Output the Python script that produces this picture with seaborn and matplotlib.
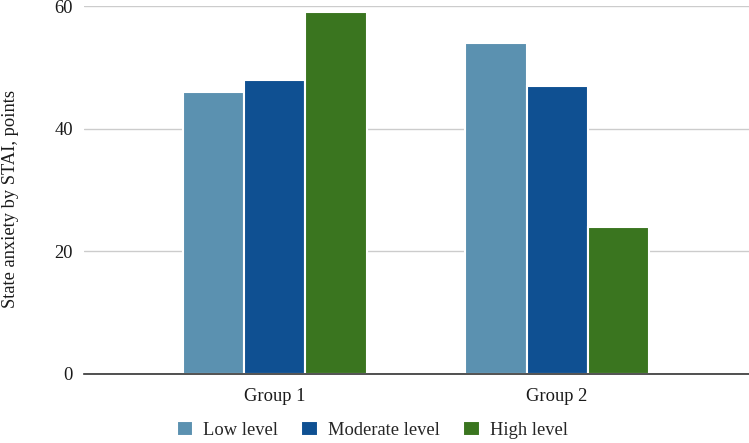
import pandas as pd
import matplotlib.pyplot as plt
import seaborn as sns

groups = ["Group 1", "Group 2"]
levels = ["Low level", "Moderate level", "High level"]
low = [46, 54]
moderate = [48, 47]
high = [59, 24]
colors = ["#5b91b0", "#0f5092", "#3a751f"]

df = pd.DataFrame({
    "group": groups * 3,
    "level": [levels[0]] * 2 + [levels[1]] * 2 + [levels[2]] * 2,
    "value": low + moderate + high,
})

sns.set_style("white")
plt.rcParams["font.family"] = ["Liberation Serif", "DejaVu Serif"]

fig = plt.figure(figsize=(7.49, 4.43), dpi=100)
ax = fig.add_axes([0.112, 0.156, 0.888, 0.830])

sns.barplot(data=df, x="group", y="value", hue="level", hue_order=levels,
            palette=colors, saturation=1, width=0.65, edgecolor="white",
            linewidth=1.5, ax=ax, zorder=3)

ax.set_ylim(0, 60)
ax.set_yticks([0, 20, 40, 60])
ax.set_xlim(-0.677, 1.68)
ax.grid(axis="y", color="#cccccc", linewidth=1, zorder=0)
for s in ["top", "right", "left"]:
    ax.spines[s].set_visible(False)
ax.spines["bottom"].set_color("#333333")
ax.spines["bottom"].set_linewidth(1.2)
ax.spines["bottom"].set_zorder(4)
ax.tick_params(axis="both", length=0, labelsize=13.3, colors="#1a1a1a", pad=8)
ax.tick_params(axis="x", pad=10)
ax.set_xlabel("")
ax.set_ylabel("State anxiety by STAI, points", fontsize=13.3, color="#1a1a1a")
ax.yaxis.set_label_coords(-0.098, 0.475)

handles, labels = ax.get_legend_handles_labels()
ax.get_legend().remove()
fig.legend(handles, labels, loc="center", bbox_to_anchor=(0.497, 0.03),
           ncol=3, frameon=False, fontsize=13.3, handlelength=0.9, handleheight=0.9,
           columnspacing=1.25, handletextpad=0.55, borderaxespad=0, borderpad=0)

fig.savefig("out.png", dpi=100)
